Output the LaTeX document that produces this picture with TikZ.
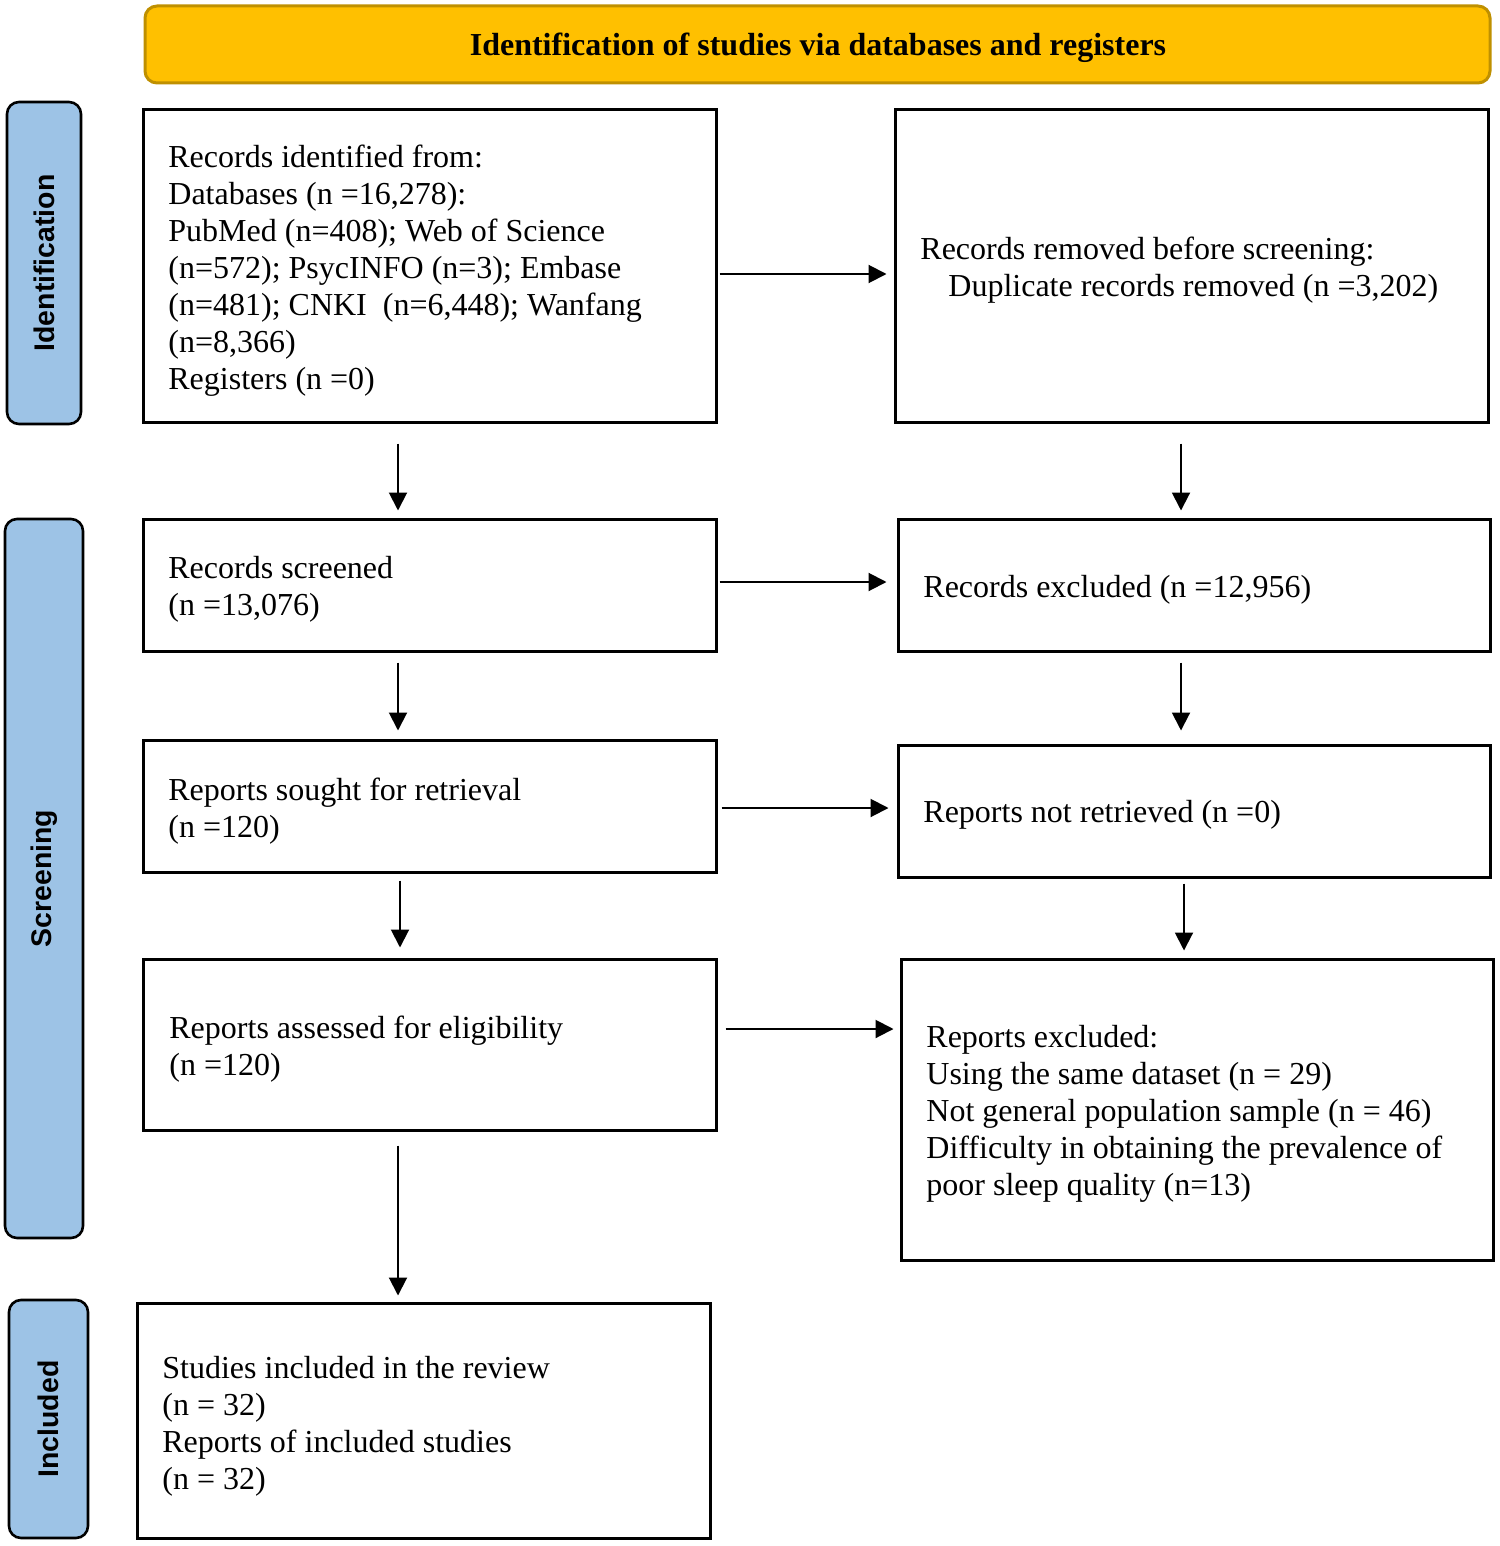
\documentclass[tikz,border=0pt]{standalone}
\usepackage{fontspec}
\setmainfont{Liberation Serif}
\setsansfont{Liberation Sans}
\usetikzlibrary{arrows.meta,fit}
\definecolor{bannerfill}{RGB}{255,192,0}
\definecolor{bannerdraw}{RGB}{191,144,0}
\definecolor{sidefill}{RGB}{157,195,230}
\tikzset{
  boxframe/.style={draw=black, line width=1.5pt, inner sep=0pt, fill=white},
  sidelabel/.style={draw=black, line width=1.3pt, rounded corners=6pt, fill=sidefill, inner sep=0pt},
  sidetext/.style={rotate=90, font=\sffamily\bfseries\fontsize{14.2}{16}\selectfont, inner sep=0pt},
  txt/.style={anchor=west, align=left, inner sep=0pt, font=\fontsize{16}{18.5}\selectfont},
  arr/.style={-{Triangle[length=9pt,width=9pt]}, line width=1pt, black},
}
\begin{document}
\begin{tikzpicture}[x=0.5pt,y=-0.5pt]
\useasboundingbox (0,0) rectangle (1499,1546);
\fill[white] (0,0) rectangle (1499,1546);

% banner
\node[draw=bannerdraw, line width=1.5pt, fill=bannerfill, rounded corners=6pt, inner sep=0pt, fit={(145,6)(1490,83)}] (banner) {};
\node[font=\bfseries\fontsize{16}{18}\selectfont, inner sep=0pt] (bannertext) at (818,48) {Identification of studies via databases and registers};

% side labels
\node[sidelabel, fit={(7,102)(81,424)}] (sid) {};
\node[sidetext] (sidt) at (sid.center) {Identification};
\node[sidelabel, fit={(5,519)(83,1238)}] (ssc) {};
\node[sidetext] (ssct) at (ssc.center) {Screening};
\node[sidelabel, fit={(9,1300)(88,1538)}] (sin) {};
\node[sidetext] (sint) at (sin.center) {Included};

% boxes
\node[boxframe, fit={(143,110)(716,422)}] (b1) {};
\node[boxframe, fit={(895,110)(1488,422)}] (b2) {};
\node[boxframe, fit={(143,519)(716,651)}] (b3) {};
\node[boxframe, fit={(898,519)(1490,651)}] (b4) {};
\node[boxframe, fit={(143,740)(716,872)}] (b5) {};
\node[boxframe, fit={(898,745)(1490,877)}] (b6) {};
\node[boxframe, fit={(143,959)(716,1130)}] (b7) {};
\node[boxframe, fit={(901,959)(1493,1260)}] (b8) {};
\node[boxframe, fit={(137,1303)(710,1538)}] (b9) {};

% texts
\node[txt] (t1) at (168,270.5) {Records identified from:\\Databases (n =16,278):\\PubMed (n=408); Web of Science\\(n=572); PsycINFO (n=3); Embase\\(n=481); CNKI\ \ (n=6,448); Wanfang\\(n=8,366)\\Registers (n =0)};
\node[txt] (t2) at (920,270.5) {Records removed before screening:\\\hspace*{14pt}Duplicate records removed (n =3,202)};
\node[txt] (t3) at (168,589.5) {Records screened\\(n =13,076)};
\node[txt] (t4) at (923,590) {Records excluded (n =12,956)};
\node[txt] (t5) at (168,811) {Reports sought for retrieval\\(n =120)};
\node[txt] (t6) at (923,815) {Reports not retrieved (n =0)};
\node[txt] (t7) at (169,1049) {Reports assessed for eligibility\\(n =120)};
\node[txt] (t8) at (926,1114) {Reports excluded:\\Using the same dataset (n = 29)\\Not general population sample (n = 46)\\Difficulty in obtaining the prevalence of\\poor sleep quality (n=13)};
\node[txt] (t9) at (162,1426) {Studies included in the review\\(n = 32)\\Reports of included studies\\(n = 32)};

% arrow guide coordinates
\coordinate (xa) at (398,0);
\coordinate (xb) at (1181,0);
\coordinate (xc) at (400,0);
\coordinate (xd) at (1184,0);
\coordinate (ya) at (0,274);
\coordinate (yb) at (0,582);
\coordinate (yc) at (0,808);
\coordinate (yd) at (0,1029);

% vertical arrows
\draw[arr, shorten <=10pt, shorten >=3.5pt] (b1.south -| xa) -- (b3.north -| xa);
\draw[arr, shorten <=10pt, shorten >=3.5pt] (b2.south -| xb) -- (b4.north -| xb);
\draw[arr, shorten <=5pt, shorten >=4pt] (b3.south -| xa) -- (b5.north -| xa);
\draw[arr, shorten <=5pt, shorten >=6.5pt] (b4.south -| xb) -- (b6.north -| xb);
\draw[arr, shorten <=3.5pt, shorten >=5pt] (b5.south -| xc) -- (b7.north -| xc);
\draw[arr, shorten <=2.5pt, shorten >=3.5pt] (b6.south -| xd) -- (b8.north -| xd);
\draw[arr, shorten <=7pt, shorten >=3pt] (b7.south -| xa) -- (b9.north -| xa);

% horizontal arrows
\draw[arr, shorten <=1pt, shorten >=3.5pt] (b1.east |- ya) -- (b2.west |- ya);
\draw[arr, shorten <=1pt, shorten >=5pt] (b3.east |- yb) -- (b4.west |- yb);
\draw[arr, shorten <=2pt, shorten >=4pt] (b5.east |- yc) -- (b6.west |- yc);
\draw[arr, shorten <=4pt, shorten >=3pt] (b7.east |- yd) -- (b8.west |- yd);
\end{tikzpicture}
\end{document}
